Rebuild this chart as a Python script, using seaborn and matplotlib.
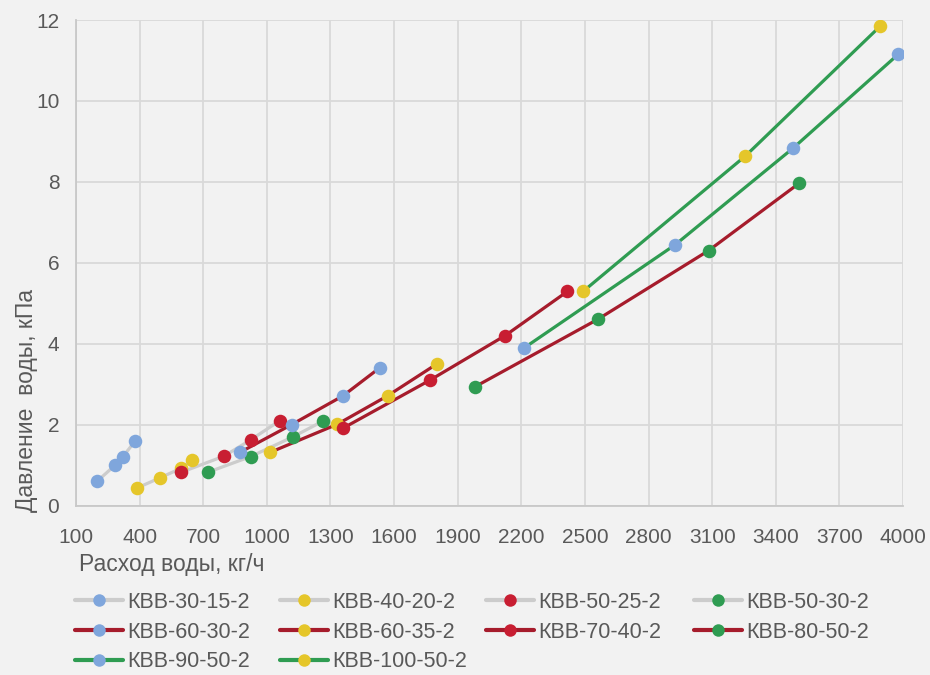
import numpy as np
import pandas as pd
import matplotlib
matplotlib.use("Agg")
import matplotlib.pyplot as plt
import seaborn as sns
from matplotlib.lines import Line2D

# series names, flow (kg/h) and pressure (kPa)
names = ['КВВ-30-15-2', 'КВВ-40-20-2', 'КВВ-50-25-2', 'КВВ-50-30-2',
         'КВВ-60-30-2', 'КВВ-60-35-2', 'КВВ-70-40-2', 'КВВ-80-50-2',
         'КВВ-90-50-2', 'КВВ-100-50-2']
flow = [
    [200, 285, 320, 380],
    [387, 494, 596, 645],
    [596, 798, 923, 1062],
    [721, 924, 1124, 1266],
    [872, 1117, 1359, 1534],
    [1014, 1333, 1569, 1802],
    [1359, 1770, 2124, 2417],
    [1980, 2560, 3083, 3509],
    [2215, 2927, 3481, 3977],
    [2491, 3257, 3893],
]
pressure = [
    [0.6, 1.0, 1.2, 1.6],
    [0.43, 0.68, 0.92, 1.12],
    [0.82, 1.22, 1.62, 2.1],
    [0.82, 1.21, 1.70, 2.09],
    [1.31, 2.0, 2.71, 3.41],
    [1.31, 2.01, 2.71, 3.5],
    [1.91, 3.1, 4.2, 5.29],
    [2.93, 4.6, 6.3, 7.96],
    [3.9, 6.45, 8.83, 11.15],
    [5.29, 8.64, 11.85],
]
x_ticks = list(range(100, 4001, 300))
y_ticks = [0, 2, 4, 6, 8, 10, 12]

BG = '#f2f2f2'
GRID = '#d9d9d9'
TXT = '#595959'
marker_cols = ['#7fa6dc', '#e5c62a', '#c81e32', '#2f9c52']
line_cols = ['#cccccc'] * 4 + ['#a61c2c'] * 4 + ['#2f9c52'] * 2

rows = []
for i, n in enumerate(names):
    for xv, yv in zip(flow[i], pressure[i]):
        rows.append({'name': n, 'flow': xv, 'p': yv})
df = pd.DataFrame(rows)

sns.set_theme(style='white')
plt.rcParams['font.family'] = ['Liberation Sans', 'DejaVu Sans']

fig = plt.figure(figsize=(9.3, 6.75), dpi=100, facecolor=BG)
ax = fig.add_axes([76 / 930, 1 - 505.5 / 675, 827 / 930, 485.5 / 675])
ax.set_facecolor(BG)

for i, n in enumerate(names):
    d = df[df['name'] == n]
    sns.lineplot(data=d, x='flow', y='p', ax=ax, color=line_cols[i],
                 linewidth=2.3, zorder=2, legend=False, sort=False)
    sns.scatterplot(data=d, x='flow', y='p', ax=ax, color=marker_cols[i % 4],
                    s=95, linewidth=0, zorder=3, legend=False)

ax.set_xlim(100, 4000)
ax.set_ylim(0, 12)
ax.set_xticks(x_ticks)
ax.set_yticks(y_ticks)
ax.grid(True, color=GRID, linewidth=1.3)
for s in ['top', 'right']:
    ax.spines[s].set_visible(False)
for s in ['left', 'bottom']:
    ax.spines[s].set_color('#c8c8c8')
    ax.spines[s].set_linewidth(1.3)
ax.tick_params(axis='x', length=0, labelsize=15, colors=TXT, pad=16)
ax.tick_params(axis='y', length=0, labelsize=15, colors=TXT, pad=12)
ax.set_xlabel('')
ax.set_ylabel('')

fig.text(79 / 930, 1 - 564 / 675, 'Расход воды, кг/ч', fontsize=16.5, color=TXT,
         ha='left', va='center')
fig.text(27 / 930, 1 - 401 / 675, 'Давление  воды, кПа', fontsize=16.5, color=TXT,
         ha='center', va='center', rotation=90)

# legend: 4 fixed-position columns, filled row by row
col_x = [75, 280, 486, 694]
for c in range(4):
    idx = list(range(c, len(names), 4))
    handles = [Line2D([0], [0], color=line_cols[i], linewidth=3, marker='o',
                      markersize=9, markerfacecolor=marker_cols[i % 4],
                      markeredgewidth=0) for i in idx]
    leg = fig.legend(handles, [names[i] for i in idx], loc='upper left',
                     bbox_to_anchor=(col_x[c] / 930, 1 - 592 / 675),
                     frameon=False, fontsize=15.5, labelcolor=TXT,
                     handlelength=2.25, handletextpad=0.2, labelspacing=0.4,
                     borderpad=0, borderaxespad=0)

fig.savefig('out.png', dpi=100, facecolor=BG)
